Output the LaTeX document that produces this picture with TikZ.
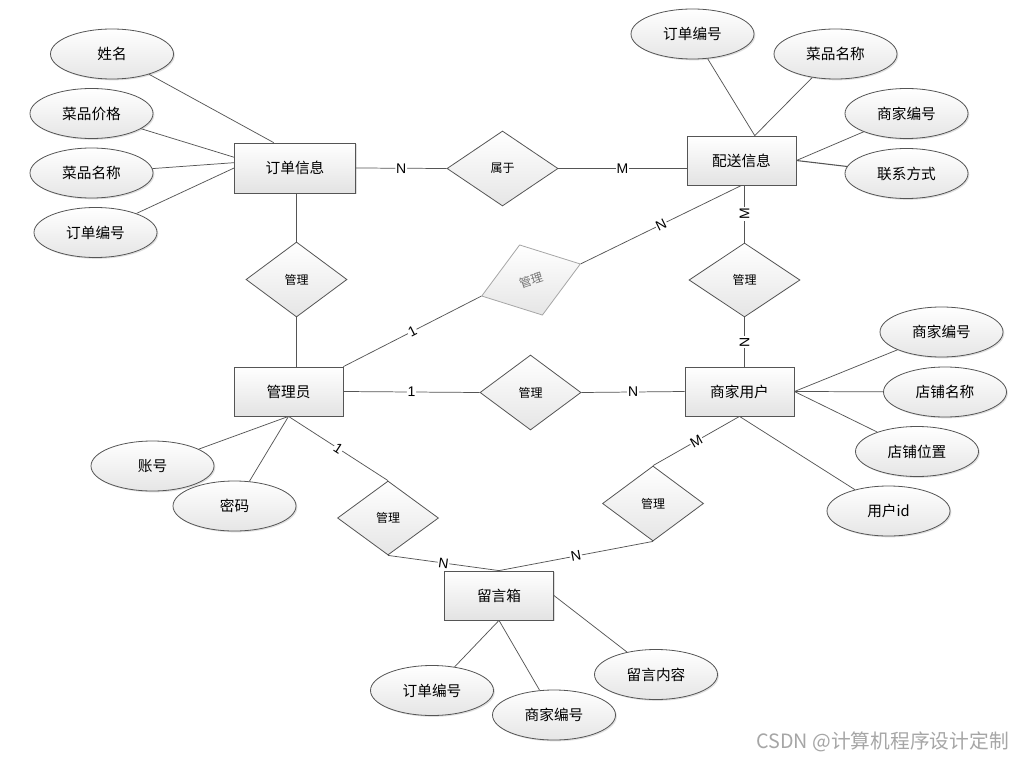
\documentclass[tikz,border=0pt]{standalone}
\usepackage{fontspec}
\usepackage{tikz}
\usetikzlibrary{shapes,arrows,shadows}
\usepackage{xcolor}
\newfontfamily\cjk{Noto Sans CJK SC}
\newfontfamily\lab{Liberation Sans}
\definecolor{linegray}{HTML}{555555}
\tikzset{
	entity/.style={rectangle,draw=linegray,line width=0.6pt,top color=white,bottom color=gray!22,minimum width=81.75pt,minimum height=36.75pt,inner sep=0pt,font=\cjk\fontsize{11}{13}\selectfont,drop shadow={shadow xshift=1pt,shadow yshift=-1pt,opacity=0.25}},
	attr/.style={ellipse,draw=linegray,line width=0.6pt,top color=white,bottom color=gray!20,minimum width=92.25pt,minimum height=37.5pt,inner sep=0pt,font=\cjk\fontsize{11}{13}\selectfont,drop shadow={shadow xshift=1pt,shadow yshift=-1pt,opacity=0.25}},
	rel/.style={diamond,draw=linegray,line width=0.6pt,top color=white,bottom color=gray!20,minimum width=75.75pt,minimum height=56.25pt,inner sep=0pt,font=\cjk\fontsize{9}{11}\selectfont},
	lbl/.style={font=\lab\fontsize{10.5}{12}\selectfont,fill=white,inner sep=0.6pt,sloped},
	conn/.style={draw=linegray,line width=0.55pt}
}
\begin{document}
\begin{tikzpicture}[x=0.75pt,y=-0.75pt]
	\fill[white] (0,0) rectangle (1023,759); 	% background
	\useasboundingbox (0,0) rectangle (1023,759);
	% entities
	\node[entity,minimum width=90.75pt,minimum height=37.5pt] (dd) at (295,168) {订单信息};
	\node[entity] (ps) at (741.5,160.5) {配送信息};
	\node[entity] (gly) at (288.5,391.5) {管理员};
	\node[entity] (sj) at (739.5,391.5) {商家用户};
	\node[entity] (lyx) at (499,595.5) {留言箱};
	% relations
	\node[rel,minimum width=83.25pt] (sy) at (502.5,168.5) {属于};
	\node[rel] (gl1) at (296.5,279.5) {管理};
	\node[rel,rotate=18,minimum width=78pt,minimum height=55.5pt,draw=gray!70,text=gray!90!black] (gl2) at (531,280) {管理};
	\node[rel,minimum width=83.25pt,minimum height=55.5pt] (gl3) at (744.5,280) {管理};
	\node[rel] (gl4) at (530.5,392.5) {管理};
	\node[rel,minimum height=55.5pt] (gl5) at (388,518) {管理};
	\node[rel] (gl6) at (653,503.5) {管理};
	% attributes of 订单信息
	\node[attr] (dd1) at (112,54) {姓名};
	\node[attr] (dd2) at (91.5,113.5) {菜品价格};
	\node[attr] (dd3) at (91.5,173) {菜品名称};
	\node[attr] (dd4) at (95.5,232.5) {订单编号};
	% attributes of 配送信息
	\node[attr] (ps1) at (692.5,34) {订单编号};
	\node[attr] (ps2) at (835.5,54) {菜品名称};
	\node[attr] (ps3) at (906.5,113.5) {商家编号};
	\node[attr] (ps4) at (906.5,173.5) {联系方式};
	% attributes of 商家用户
	\node[attr] (sj1) at (941.5,332) {商家编号};
	\node[attr] (sj2) at (945,392) {店铺名称};
	\node[attr] (sj3) at (917,451.5) {店铺位置};
	\node[attr] (sj4) at (888.5,511) {用户id};
	% attributes of 管理员
	\node[attr] (gly1) at (152.5,466) {账号};
	\node[attr] (gly2) at (234.5,506) {密码};
	% attributes of 留言箱
	\node[attr] (lyx1) at (432,690.5) {订单编号};
	\node[attr] (lyx2) at (554,715) {商家编号};
	\node[attr] (lyx3) at (656,674.5) {留言内容};
	% relation lines
	\draw[conn] (dd.east) -- node[lbl]{N} (sy.west);
	\draw[conn] (sy.east) -- node[lbl]{M} (sy.east -| ps.west);
	\draw[conn] (dd.south -| gl1.north) -- (gl1.north);
	\draw[conn] (gl1.south) -- (gl1.south |- gly.north);
	\draw[conn] (gly.north east) -- node[lbl]{1} (gl2.west);
	\draw[conn] (gl2.east) -- node[lbl]{N} (ps.south);
	\draw[conn] (gl3.north) -- node[lbl]{M} (gl3.north |- ps.south);
	\draw[conn] (gl3.north |- sj.north) -- node[lbl]{N} (gl3.south);
	\draw[conn] (gly.east) -- node[lbl]{1} (gl4.west);
	\draw[conn] (gl4.east) -- node[lbl]{N} (sj.west);
	\draw[conn] (gly.south) -- node[lbl]{1} (gl5.north);
	\draw[conn] (gl5.south) -- node[lbl]{N} (lyx.north);
	\draw[conn] (lyx.north) -- node[lbl]{N} (gl6.south);
	\draw[conn] (gl6.north) -- node[lbl]{M} (sj.south);
	% attribute lines
	\draw[conn] (dd1) -- (dd.130);
	\draw[conn] (dd2) -- (dd.170);
	\draw[conn] (dd3) -- (dd.175);
	\draw[conn] (dd4) -- (dd.west);
	\draw[conn] (ps1) -- (ps.62);
	\draw[conn] (ps2) -- (ps.62);
	\draw[conn] (ps3) -- (ps.east);
	\draw[conn,line width=0.8pt] (ps4) -- (ps.east);
	\draw[conn] (sj1) -- (sj.east);
	\draw[conn] (sj2) -- (sj.east);
	\draw[conn] (sj3) -- (sj.east);
	\draw[conn] (sj4) -- (sj.south);
	\draw[conn] (gly1) -- (gly.south);
	\draw[conn] (gly2) -- (gly.south);
	\draw[conn] (lyx1) -- (lyx.south);
	\draw[conn] (lyx2) -- (lyx.south);
	\draw[conn] (lyx3) -- (lyx.east);
	% watermark
	\node[font=\cjk\fontsize{14.8}{17}\selectfont,text=gray!70,anchor=east,inner sep=0pt] (wm) at (1009,742) {CSDN @计算机程序设计定制};
\end{tikzpicture}
\end{document}
